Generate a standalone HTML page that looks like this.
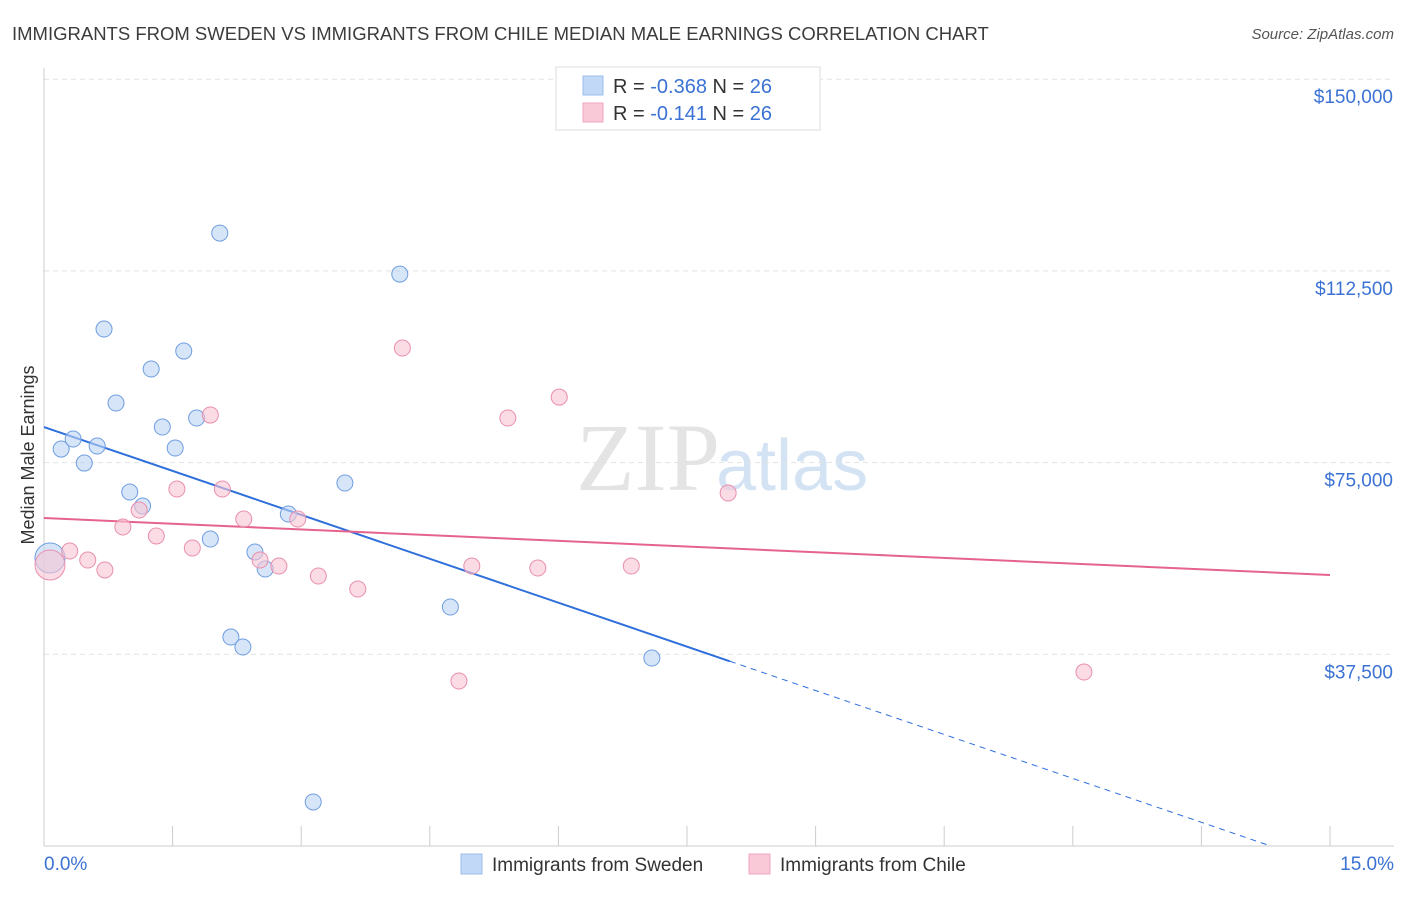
<!DOCTYPE html>
<html><head><meta charset="utf-8"><style>
body{margin:0;background:#fff;font-family:"Liberation Sans",sans-serif;}
svg text{font-family:"Liberation Sans",sans-serif;}
</style></head><body>
<svg id="chart" width="1406" height="892" xmlns="http://www.w3.org/2000/svg">
<text x="12" y="40" font-size="18.5" fill="#3c3c3c">IMMIGRANTS FROM SWEDEN VS IMMIGRANTS FROM CHILE MEDIAN MALE EARNINGS CORRELATION CHART</text>
<text x="1394" y="39" font-size="15" fill="#555" font-style="italic" text-anchor="end">Source: ZipAtlas.com</text>
<text transform="translate(34,455) rotate(-90)" font-size="18" fill="#333" text-anchor="middle">Median Male Earnings</text>
<text x="720" y="490" font-size="96" text-anchor="end" fill="#e4e4e4" font-family="Liberation Serif" style="font-family:'Liberation Serif',serif">ZIP</text>
<text x="716" y="490" font-size="72" fill="#d4e3f4">atlas</text>
<g id="grid"></g><g id="axes"></g><g id="lines"></g><g id="pts"></g>
<g>
<rect x="556" y="67" width="264" height="63" fill="#fff" stroke="#ddd"/>
<rect x="583" y="76" width="20" height="19" fill="#c2d8f7" stroke="#9bbdeb"/>
<rect x="583" y="103" width="20" height="19" fill="#fac9d7" stroke="#f0a5bd"/>
<text x="613" y="93" font-size="20" fill="#333">R = <tspan fill="#3b72d4">-0.368</tspan>   N = <tspan fill="#3b72d4">26</tspan></text>
<text x="613" y="120" font-size="20" fill="#333">R =  <tspan fill="#3b72d4"> -0.141</tspan>   N = <tspan fill="#3b72d4">26</tspan></text>
</g>
<g>
<rect x="461" y="854" width="21" height="20" fill="#c2d8f7" stroke="#9bbdeb"/>
<text x="492" y="871" font-size="19" fill="#333">Immigrants from Sweden</text>
<rect x="749" y="854" width="21" height="20" fill="#fac9d7" stroke="#f0a5bd"/>
<text x="780" y="871" font-size="19" fill="#333">Immigrants from Chile</text>
</g>
</svg>
<script>
const yTicks=[37500,75000,112500,150000];
const yTickLabels=["$37,500","$75,000","$112,500","$150,000"];
const xTickLabels=["0.0%","15.0%"];
const swedenX=[0.07,0.20,0.34,0.47,0.62,0.70,0.84,1.00,1.15,1.25,1.38,1.53,1.63,1.78,1.94,2.05,2.18,2.32,2.46,2.58,2.85,3.14,3.51,4.15,4.74,7.09];
const swedenY=[56340,77650,79610,74910,78240,101130,86650,69240,66500,93300,81960,77850,96820,83720,60050,119900,40880,38920,57510,54180,64940,8610,71000,111880,46750,36770];
const chileX=[0.07,0.30,0.51,0.71,0.92,1.11,1.31,1.55,1.73,1.94,2.08,2.33,2.52,2.74,2.96,3.20,3.66,4.18,4.84,4.99,5.41,5.76,6.01,6.85,7.98,12.13];
const chileY=[54960,57700,55940,53990,62400,65720,60640,69830,58290,84300,69830,63960,55940,54770,63960,52810,50270,97410,32270,54770,83720,54380,87820,54770,69050,34030];
const swedenTrend=[81960,-5728];
const chileTrend=[64160,-743];
const NS="http://www.w3.org/2000/svg";
const X=v=>44+v/15*1286, Y=v=>846-v/37500*191.7;
function el(t,a,p){const e=document.createElementNS(NS,t);for(const k in a)e.setAttribute(k,a[k]);document.getElementById(p).appendChild(e);return e;}
yTicks.forEach((t,i)=>{
 const g=el('line',{x1:44,x2:1394,y1:Y(t),y2:Y(t),stroke:'#e2e2e2','stroke-dasharray':'5,4'},'grid');
 
 
 const tx=el('text',{x:1393,y:Y(t)+24,'font-size':19,fill:'#3b72d4','text-anchor':'end'},'axes');
 tx.textContent=yTickLabels[i];
 
 
});
const ax=el('line',{x1:44,x2:44,y1:68,y2:846,stroke:'#ccc'},'axes');


const bx=el('line',{x1:44,x2:1394,y1:846,y2:846,stroke:'#ccc'},'axes');


for(let i=1;i<=10;i++){const t=el('line',{x1:X(i*1.5),x2:X(i*1.5),y1:826,y2:846,stroke:'#ccc'},'axes');
 
 }
[[0,'start',44],[15,'end',1394]].forEach((d,i)=>{const t=el('text',{x:d[2],y:870,'font-size':19,fill:'#3b72d4','text-anchor':d[1]},'axes');t.textContent=xTickLabels[i];
 
 });
const sEnd=8.0, sZero=-swedenTrend[0]/swedenTrend[1];
const l1=el('line',{x1:X(0),y1:Y(swedenTrend[0]),x2:X(sEnd),y2:Y(swedenTrend[0]+swedenTrend[1]*sEnd),stroke:'#2f6fdc','stroke-width':2},'lines');


const l2=el('line',{x1:X(sEnd),y1:Y(swedenTrend[0]+swedenTrend[1]*sEnd),x2:X(sZero),y2:Y(0),stroke:'#2f6fdc','stroke-width':1,'stroke-dasharray':'6,5'},'lines');


const l3=el('line',{x1:X(0),y1:Y(chileTrend[0]),x2:X(15),y2:Y(chileTrend[0]+chileTrend[1]*15),stroke:'#e5638d','stroke-width':2},'lines');


function pts(xs,ys,fill,stroke,name){xs.forEach((x,i)=>{const c=el('circle',{cx:X(x),cy:Y(ys[i]),r:i==0?15:8,fill:fill,'fill-opacity':0.6,stroke:stroke,'stroke-width':1},'pts');
 
 });}
pts(swedenX,swedenY,'#bcd4f5','#6f9ee0','sweden-point');
pts(chileX,chileY,'#f9c4d3','#e98fae','chile-point');
</script>
</body></html>
